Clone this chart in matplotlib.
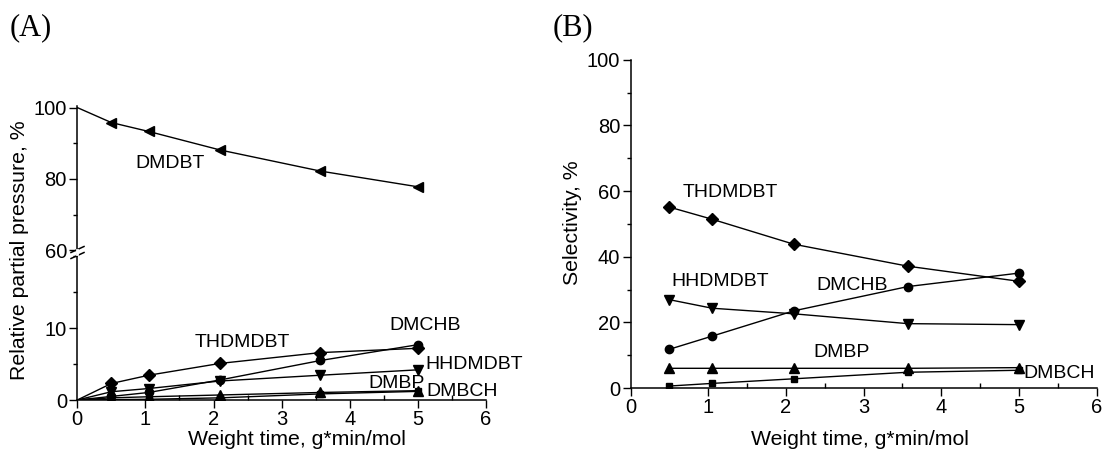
import numpy as np
import matplotlib
matplotlib.use("Agg")
import matplotlib.pyplot as plt
from matplotlib.lines import Line2D
from matplotlib.ticker import MultipleLocator

plt.rcParams['font.family'] = ['Liberation Sans', 'DejaVu Sans']

# weight time, g*min/mol
wt = [0.5, 1.05, 2.1, 3.57, 5.0]

# (A) relative partial pressure, %  (first point at wt=0)
p_dmdbt = [100, 95.8, 93.3, 88.1, 82.2, 77.8]
p_thdmdbt = [0, 2.3, 3.45, 5.1, 6.6, 7.2]
p_dmchb = [0, 0.5, 1.05, 2.8, 5.5, 7.7]
p_hhdmdbt = [0, 1.15, 1.6, 2.65, 3.45, 4.2]
p_dmbp = [0, 0.3, 0.45, 0.7, 1.05, 1.3]
p_dmbch = [0, 0.05, 0.1, 0.3, 0.85, 1.2]

# (B) selectivity, %
s_thdmdbt = [55.1, 51.4, 43.8, 37.1, 32.5]
s_dmchb = [11.8, 15.8, 23.5, 30.9, 35.0]
s_hhdmdbt = [26.9, 24.3, 22.6, 19.6, 19.3]
s_dmbp = [6.0, 6.0, 6.0, 6.0, 6.2]
s_dmbch = [0.6, 1.4, 2.8, 4.8, 5.4]

W, H = 1106, 450
fig = plt.figure(figsize=(W / 100, H / 100), dpi=100)

def px(x0, y0, x1, y1):
    # pixel box (top-left origin) -> figure fraction rect
    return [x0 / W, 1 - y1 / H, (x1 - x0) / W, (y1 - y0) / H]

TICK = 14.5
TXT = 14
LAB = 15.3

def style(ax, xaxis=True):
    for s in ['top', 'right']:
        ax.spines[s].set_visible(False)
    ax.spines['left'].set_linewidth(1.1)
    ax.spines['bottom'].set_linewidth(1.1)
    ax.tick_params(axis='y', which='major', direction='out', length=5.5, width=1.0, labelsize=TICK, pad=2)
    ax.tick_params(axis='y', which='minor', direction='out', length=3, width=1.0)
    if xaxis:
        ax.tick_params(axis='x', which='major', direction='out', length=5.5, width=1.0, labelsize=TICK, pad=2)
        ax.tick_params(axis='x', which='minor', direction='in', length=3.5, width=1.0)
        ax.set_xlim(0, 6)
        ax.xaxis.set_major_locator(MultipleLocator(1))
        ax.xaxis.set_minor_locator(MultipleLocator(0.5))

mk = dict(color='black', lw=1.0, markevery=slice(1, None))

# ---------- panel A ----------
x0 = [0] + wt
axl = fig.add_axes(px(77.3, 254.2, 486, 400))
axu = fig.add_axes(px(77.3, 105.8, 486, 250.3))
for ax in (axl, axu):
    ax.patch.set_alpha(0)
style(axl)
style(axu, xaxis=False)
axu.spines['bottom'].set_visible(False)
axu.set_xlim(0, 6)
axu.set_xticks([])

axu.plot(x0, p_dmdbt, marker='<', ms=7, **mk)
axu.set_ylim(60, 100.5)
axu.set_yticks([60, 80, 100])
axu.yaxis.set_minor_locator(MultipleLocator(10))
axu.text(0.85, 84.3, 'DMDBT', fontsize=TXT, va='center')

axl.plot(x0, p_dmbch, marker='s', ms=5, **mk)
axl.plot(x0, p_dmbp, marker='^', ms=7, **mk)
axl.plot(x0, p_hhdmdbt, marker='v', ms=7, **mk)
axl.plot(x0, p_dmchb, marker='o', ms=6, **mk)
axl.plot(x0, p_thdmdbt, marker='D', ms=6, **mk)
axl.set_ylim(0, 20.3)
axl.set_yticks([0, 10])
axl.set_yticks([5, 15, 20], minor=True)
axl.text(1.72, 8.0, 'THDMDBT', fontsize=TXT, va='center')
axl.text(4.58, 10.4, 'DMCHB', fontsize=TXT, va='center')
axl.text(5.11, 4.9, 'HHDMDBT', fontsize=TXT, va='center')
axl.text(4.28, 2.3, 'DMBP', fontsize=TXT, va='center')
axl.text(5.13, 1.2, 'DMBCH', fontsize=TXT, va='center')

# axis break marks
for yb in (249.5, 255.5):
    fig.add_artist(Line2D([71 / W, 84 / W], [1 - (yb + 3) / H, 1 - (yb - 3) / H],
                          color='black', lw=1.1))
fig.add_artist(Line2D([77.3 / W, 77.3 / W], [1 - 254.2 / H, 1 - 250.3 / H], color='white', lw=2))

fig.text(20 / W, 1 - 250 / H, 'Relative partial pressure, %', rotation=90,
         fontsize=LAB, ha='center', va='center')
fig.text(297 / W, 1 - 445 / H, 'Weight time, g*min/mol', fontsize=LAB, ha='center', va='baseline')
fig.text(10 / W, 1 - 28 / H, '(A)', fontsize=22, family='Liberation Serif', ha='left', va='center')

# ---------- panel B ----------
axb = fig.add_axes(px(630.6, 59.7, 1096.7, 388))
axb.patch.set_alpha(0)
style(axb)
mb = dict(color='black', lw=1.0)
axb.plot(wt, s_dmbch, marker='s', ms=5, **mb)
axb.plot(wt, s_dmbp, marker='^', ms=7, **mb)
axb.plot(wt, s_hhdmdbt, marker='v', ms=7, **mb)
axb.plot(wt, s_dmchb, marker='o', ms=6, **mb)
axb.plot(wt, s_thdmdbt, marker='D', ms=6, **mb)
axb.set_ylim(0, 100)
axb.yaxis.set_major_locator(MultipleLocator(20))
axb.yaxis.set_minor_locator(MultipleLocator(10))
axb.text(0.67, 59.7, 'THDMDBT', fontsize=TXT, va='center')
axb.text(0.53, 32.3, 'HHDMDBT', fontsize=TXT, va='center')
axb.text(2.39, 31.2, 'DMCHB', fontsize=TXT, va='center')
axb.text(2.35, 10.9, 'DMBP', fontsize=TXT, va='center')
axb.text(5.06, 4.3, 'DMBCH', fontsize=TXT, va='center', clip_on=False)

fig.text(572 / W, 1 - 223 / H, 'Selectivity, %', rotation=90, fontsize=LAB, ha='center', va='center')
fig.text(860 / W, 1 - 445 / H, 'Weight time, g*min/mol', fontsize=LAB, ha='center', va='baseline')
fig.text(553 / W, 1 - 28 / H, '(B)', fontsize=22, family='Liberation Serif', ha='left', va='center')

fig.savefig('out.png', dpi=100)
